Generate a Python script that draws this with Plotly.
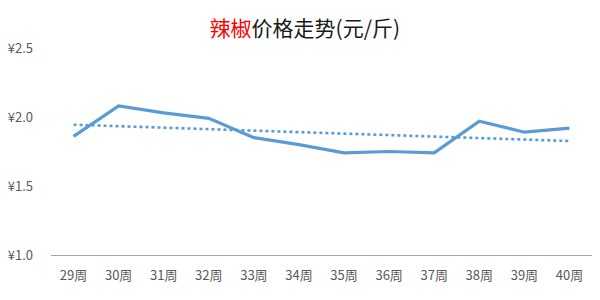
import numpy as np
import plotly.graph_objects as go

weeks = ["29周", "30周", "31周", "32周", "33周", "34周", "35周", "36周", "37周", "38周", "39周", "40周"]
prices = [1.86, 2.08, 2.03, 1.99, 1.85, 1.80, 1.74, 1.75, 1.74, 1.97, 1.89, 1.92]
y_ticks = [1.0, 1.5, 2.0, 2.5]
y_tick_labels = ["¥1.0", "¥1.5", "¥2.0", "¥2.5"]

idx = np.arange(len(prices))
slope, intercept = np.polyfit(idx, prices, 1)
trend = slope * idx + intercept

color = "#5B9BD5"
font = "Noto Sans CJK SC"

fig = go.Figure()
fig.add_trace(go.Scatter(x=weeks, y=prices, mode="lines",
                         line=dict(color=color, width=3.2), hoverinfo="skip"))
fig.add_trace(go.Scatter(x=weeks, y=trend, mode="lines",
                         line=dict(color=color, width=2.6, dash="dot"), hoverinfo="skip"))

fig.update_layout(
    width=600, height=300,
    margin=dict(l=51, r=8, t=48, b=45),
    paper_bgcolor="white", plot_bgcolor="white",
    showlegend=False,
    font=dict(family=font, size=13, color="#595959"),
    title=dict(text="<span style='color:#FF0000'>辣椒</span>价格走势(元/斤)",
               x=0.508, xanchor="center", y=0.905, yanchor="middle",
               font=dict(family=font, size=21, color="#1a1a1a")),
    xaxis=dict(showgrid=False, showline=True, linecolor="#A6A6A6", linewidth=1,
               range=[-0.5, len(weeks) - 0.5],
               ticks="", tickfont=dict(size=13, color="#595959"),
               ticklabelstandoff=8, fixedrange=True),
    yaxis=dict(range=[1.0, 2.5], tickvals=y_ticks, ticktext=y_tick_labels,
               showgrid=False, zeroline=False, showline=False,
               tickfont=dict(size=13, color="#595959"),
               ticklabelstandoff=17, fixedrange=True),
)

fig.write_html("out.html")
